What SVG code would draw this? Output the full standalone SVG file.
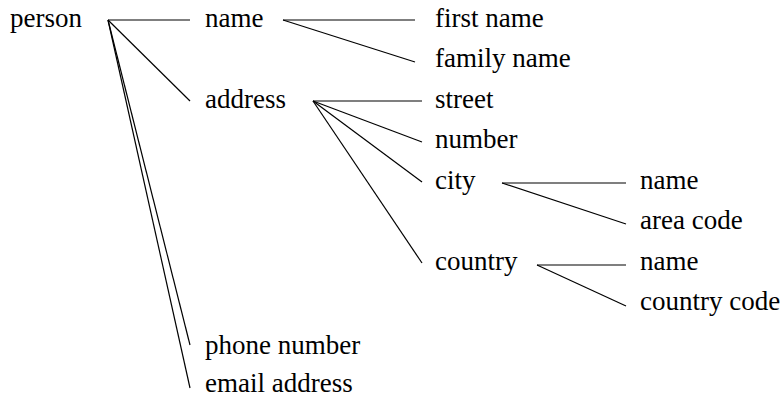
<svg xmlns="http://www.w3.org/2000/svg" width="784" height="398" viewBox="0 0 784 398">
<style>
text { font-family: "Liberation Serif", "Times New Roman", serif; font-size: 27px; fill: #000; }
.c line { stroke: #000; stroke-width: 1.2; }
</style>
<rect width="784" height="398" fill="#fff"/>
<g class="c" id="connectors">
<line x1="108" y1="20" x2="190" y2="20"/>
<line x1="108" y1="20" x2="190" y2="101"/>
<line x1="108" y1="20" x2="190" y2="345"/>
<line x1="108" y1="20" x2="190" y2="388"/>
<line x1="283" y1="20" x2="415" y2="20"/>
<line x1="283" y1="20" x2="415" y2="62"/>
<line x1="313" y1="101" x2="422" y2="101"/>
<line x1="313" y1="101" x2="422" y2="142"/>
<line x1="313" y1="101" x2="422" y2="182"/>
<line x1="313" y1="101" x2="422" y2="263"/>
<line x1="502" y1="183" x2="626" y2="183"/>
<line x1="502" y1="183" x2="626" y2="224"/>
<line x1="537" y1="265" x2="626" y2="265"/>
<line x1="537" y1="265" x2="626" y2="306"/>
</g>
<g id="person"><text x="10" y="27">person</text></g>
<g id="name"><text x="205" y="27">name</text></g>
<g id="address"><text x="205" y="108">address</text></g>
<g id="phone"><text x="205" y="354">phone number</text></g>
<g id="email"><text x="205" y="392">email address</text></g>
<g id="firstname"><text x="435" y="27">first name</text></g>
<g id="familyname"><text x="435" y="67">family name</text></g>
<g id="street"><text x="435" y="108">street</text></g>
<g id="number"><text x="435" y="148">number</text></g>
<g id="city"><text x="435" y="189">city</text></g>
<g id="country"><text x="435" y="270">country</text></g>
<g id="cityname"><text x="640" y="189">name</text></g>
<g id="areacode"><text x="640" y="229">area code</text></g>
<g id="countryname"><text x="640" y="270">name</text></g>
<g id="countrycode"><text x="640" y="310">country code</text></g>
</svg>
